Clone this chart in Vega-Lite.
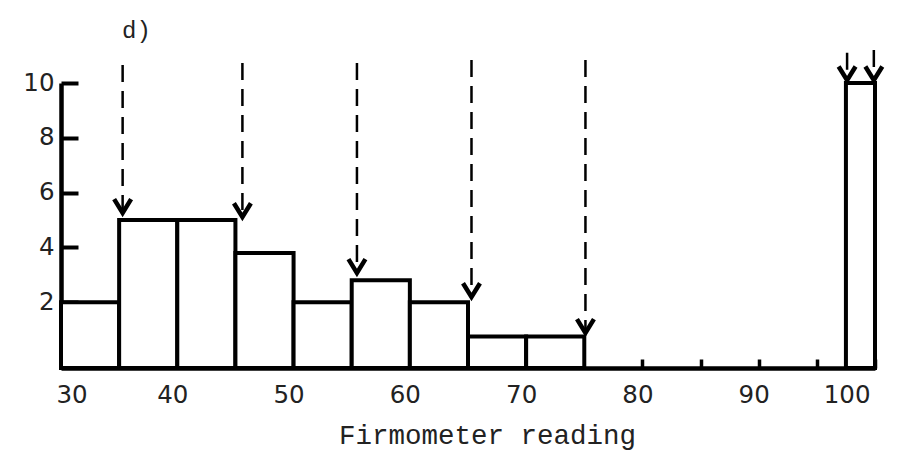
{
  "$schema": "https://vega.github.io/schema/vega-lite/v6.json",
  "width": 814,
  "height": 285,
  "autosize": {"type": "none"},
  "padding": {"left": 61, "top": 83, "right": 24, "bottom": 98},
  "background": "white",
  "config": {"view": {"stroke": null}},
  "title": {
    "text": "d)",
    "anchor": "start",
    "frame": "group",
    "font": "Liberation Mono",
    "fontSize": 24,
    "fontWeight": "normal",
    "color": "#222222",
    "dx": 61,
    "offset": 6
  },
  "datasets": {
    "bars": [
      {"start": 30, "end": 35, "count": 2},
      {"start": 35, "end": 40, "count": 5},
      {"start": 40, "end": 45, "count": 5},
      {"start": 45, "end": 50, "count": 3.8},
      {"start": 50, "end": 55, "count": 2},
      {"start": 55, "end": 60, "count": 2.8},
      {"start": 60, "end": 65, "count": 2},
      {"start": 65, "end": 70, "count": 0.75},
      {"start": 70, "end": 75, "count": 0.75},
      {"start": 97.5, "end": 100, "count": 10}
    ],
    "arrows": [
      {"x": 35.3, "top": 10.66, "tip": 5.26},
      {"x": 45.6, "top": 10.73, "tip": 5.11},
      {"x": 55.45, "top": 10.73, "tip": 3.07},
      {"x": 65.3, "top": 10.84, "tip": 2.19},
      {"x": 75.1, "top": 10.84, "tip": 0.88},
      {"x": 97.6, "top": 11.1, "tip": 10.1},
      {"x": 99.9, "top": 11.2, "tip": 10.1}
    ]
  },
  "layer": [
    {
      "data": {"name": "bars"},
      "mark": {"type": "rect", "fill": "white", "stroke": "black", "strokeWidth": 4},
      "encoding": {
        "x": {
          "field": "start",
          "type": "quantitative",
          "scale": {"domain": [30, 100], "nice": false, "zero": false},
          "axis": {
            "values": [30, 40, 50, 60, 70, 80, 85, 90, 95, 100],
            "labelExpr": "datum.value % 10 === 0 ? datum.label : ''",
            "labelOverlap": false,
            "grid": false,
            "domainColor": "black",
            "domainWidth": 4.5,
            "tickColor": "black",
            "tickSize": -9,
            "tickWidth": 3.5,
            "labelFont": "DejaVu Sans",
            "labelFontSize": 24.5,
            "labelColor": "#222222",
            "labelPadding": 24,
            "labelOffset": -5,
            "title": "Firmometer reading",
            "titleFont": "Liberation Mono",
            "titleFontSize": 27.5,
            "titleFontWeight": "normal",
            "titleColor": "#222222",
            "titleX": 426,
            "titleY": 75,
            "titleAlign": "center",
            "titleBaseline": "alphabetic"
          }
        },
        "x2": {"field": "end"},
        "y": {
          "field": "count",
          "type": "quantitative",
          "scale": {"domain": [-0.4, 10], "nice": false, "zero": false},
          "axis": {
            "values": [2, 4, 6, 8, 10],
            "grid": false,
            "domainColor": "black",
            "domainWidth": 4.5,
            "tickColor": "black",
            "tickSize": -17,
            "tickWidth": 4,
            "labelFont": "DejaVu Sans",
            "labelFontSize": 24.5,
            "labelColor": "#222222",
            "labelPadding": 24,
            "title": null
          }
        },
        "y2": {"datum": -0.4}
      }
    },
    {
      "data": {"name": "arrows"},
      "mark": {"type": "rule", "strokeDash": [17, 9], "strokeWidth": 2.5, "color": "black"},
      "encoding": {
        "x": {"field": "x", "type": "quantitative"},
        "y": {"field": "top", "type": "quantitative"},
        "y2": {"field": "tip"}
      }
    },
    {
      "data": {"name": "arrows"},
      "mark": {
        "type": "point",
        "shape": "M-0.8,-1.3L0,0L0.8,-1.3",
        "filled": false,
        "stroke": "black",
        "strokeWidth": 4.5,
        "size": 450,
        "opacity": 1
      },
      "encoding": {
        "x": {"field": "x", "type": "quantitative"},
        "y": {"field": "tip", "type": "quantitative"}
      }
    }
  ]
}
